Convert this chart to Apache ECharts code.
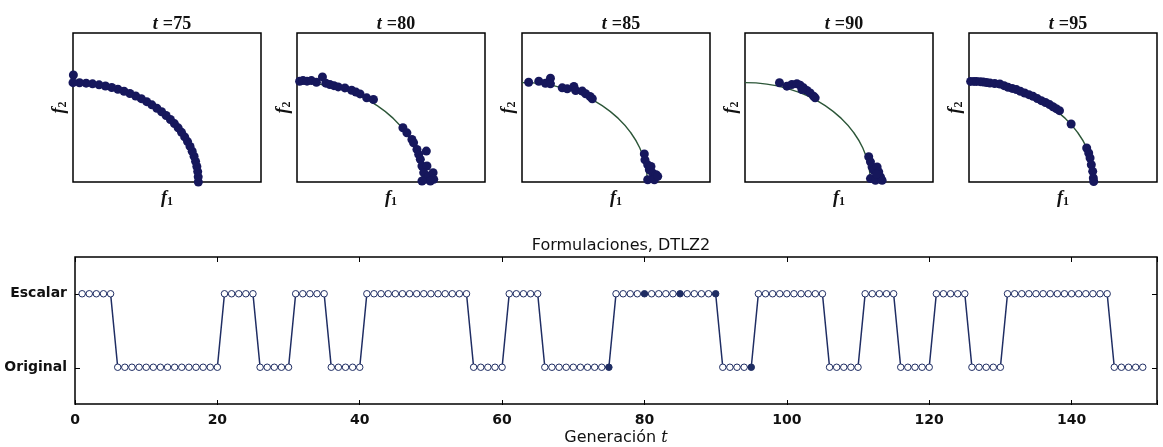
<!DOCTYPE html>
<html>
<head>
<meta charset="utf-8">
<script src="https://cdn.jsdelivr.net/npm/echarts@6/dist/echarts.min.js"></script>
<style>
html,body{margin:0;padding:0;background:#fff;}
#chart{width:1163px;height:447px;}
</style>
</head>
<body>
<div id="chart"></div>
<script>
// formulacion usada en cada generacion t=1..150 (0 = Original, 1 = Escalar)
var formulation = [
    1,1,1,1,1,0,0,0,0,0,
    0,0,0,0,0,0,0,0,0,0,
    1,1,1,1,1,0,0,0,0,0,
    1,1,1,1,1,0,0,0,0,0,
    1,1,1,1,1,1,1,1,1,1,
    1,1,1,1,1,0,0,0,0,0,
    1,1,1,1,1,0,0,0,0,0,
    0,0,0,0,0,1,1,1,1,1,
    1,1,1,1,1,1,1,1,1,1,
    0,0,0,0,0,1,1,1,1,1,
    1,1,1,1,1,0,0,0,0,0,
    1,1,1,1,1,0,0,0,0,0,
    1,1,1,1,1,0,0,0,0,0,
    1,1,1,1,1,1,1,1,1,1,
    1,1,1,1,1,0,0,0,0,0
];
var yCats = ['Original', 'Escalar'];
var xTicks = [0, 20, 40, 60, 80, 100, 120, 140];
var snapTimes = [75, 80, 85, 90, 95];

// frente de Pareto DTLZ2 (f1, f2)
var front = [
    [0.000,1.000],[0.174,0.985],[0.342,0.940],[0.500,0.866],[0.643,0.766],
    [0.766,0.643],[0.866,0.500],[0.940,0.342],[0.985,0.174],[1.000,0.000]
];

var pop75 = [
    [0.003,1.077],
    [1.000,0.000],[0.999,0.052],[0.995,0.105],[0.988,0.156],[0.978,0.208],[0.966,0.259],
    [0.951,0.309],[0.934,0.358],[0.914,0.407],[0.891,0.454],[0.866,0.500],[0.839,0.545],
    [0.809,0.588],[0.777,0.629],[0.743,0.669],[0.707,0.707],[0.669,0.743],[0.629,0.777],
    [0.588,0.809],[0.545,0.839],[0.500,0.866],[0.454,0.891],[0.407,0.914],[0.358,0.934],
    [0.309,0.951],[0.259,0.966],[0.208,0.978],[0.156,0.988],[0.105,0.995],[0.052,0.999],
    [0.000,1.000]
];
var pop80 = [
    [0.021,1.014],[0.048,1.021],[0.080,1.015],[0.115,1.021],[0.155,1.004],[0.203,1.058],
    [0.230,0.995],[0.262,0.981],[0.295,0.970],[0.329,0.957],[0.382,0.947],[0.436,0.924],
    [0.470,0.905],[0.503,0.887],[0.556,0.847],[0.610,0.830],
    [0.845,0.546],[0.877,0.495],[0.917,0.428],[0.930,0.395],[0.957,0.328],[0.971,0.278],
    [0.984,0.228],[1.032,0.311],[0.997,0.161],[1.037,0.161],[1.011,0.094],[1.024,0.027],
    [1.051,0.060],[1.086,0.094],[1.091,0.027],[1.064,0.010],[0.997,0.010]
];
var pop85 = [
    [0.053,1.004],[0.134,1.014],[0.187,0.994],[0.227,1.044],[0.227,0.988],[0.321,0.948],
    [0.361,0.938],[0.414,0.961],[0.428,0.921],[0.481,0.915],[0.508,0.888],[0.543,0.861],
    [0.561,0.838],
    [0.976,0.283],[0.981,0.223],[1.003,0.173],[1.016,0.123],[1.029,0.156],[1.043,0.090],
    [1.070,0.073],[1.003,0.023],[1.056,0.023],[1.083,0.057]
];
var pop90 = [
    [0.275,0.999],[0.334,0.965],[0.374,0.982],[0.414,0.989],[0.440,0.975],[0.467,0.948],
    [0.494,0.921],[0.520,0.897],[0.547,0.864],[0.560,0.847],[0.454,0.931],
    [0.987,0.254],[1.001,0.203],[1.014,0.152],[1.027,0.119],[1.054,0.152],[1.067,0.102],
    [1.081,0.051],[1.001,0.034],[1.041,0.017],[1.094,0.017],[1.050,0.080]
];
var pop95 = [
    [0.013,1.013],[0.040,1.013],[0.061,1.013],[0.090,1.010],[0.114,1.007],[0.140,1.002],
    [0.167,0.997],[0.205,0.992],[0.246,0.987],[0.280,0.970],[0.312,0.953],[0.345,0.942],
    [0.378,0.930],[0.410,0.913],[0.444,0.896],[0.478,0.879],[0.511,0.862],[0.545,0.840],
    [0.577,0.819],[0.610,0.800],[0.643,0.779],[0.670,0.758],[0.696,0.738],[0.722,0.718],
    [0.815,0.584],
    [0.939,0.342],[0.955,0.292],[0.966,0.242],[0.976,0.174],[0.987,0.107],[0.992,0.040],
    [0.995,0.005]
];
var pops = [pop75, pop80, pop85, pop90, pop95];

var navy = '#16175c';
var lineNavy = '#1f2d63';
var green = '#2c5638';

var panelLeft = [73, 297, 522, 745, 969];
var panelW = 188, panelH = 149, panelTop = 33;

var serifRich = {
    f: {fontFamily: 'Liberation Serif', fontStyle: 'italic', fontWeight: 'bold', fontSize: 18, color: '#111'},
    s: {fontFamily: 'Liberation Serif', fontWeight: 'bold', fontSize: 12, color: '#111', padding: [8, 0, 0, 0]}
};

var grids = [], xAxes = [], yAxes = [], series = [], titles = [];
for (var i = 0; i < 5; i++) {
    grids.push({left: panelLeft[i], top: panelTop, width: panelW, height: panelH,
        show: true, borderColor: '#000', borderWidth: 1.5});
    xAxes.push({gridIndex: i, type: 'value', min: 0, max: 1.5,
        axisLine: {show: false, onZero: false}, axisTick: {show: false}, axisLabel: {show: false}, splitLine: {show: false},
        name: '{f|f}{s|1}', nameLocation: 'middle', nameGap: 6,
        nameTextStyle: {rich: serifRich}});
    yAxes.push({gridIndex: i, type: 'value', min: 0, max: 1.5,
        axisLine: {show: false, onZero: false}, axisTick: {show: false}, axisLabel: {show: false}, splitLine: {show: false},
        name: '{f|f}{s|2}', nameLocation: 'middle', nameGap: 4,
        nameTextStyle: {rich: serifRich}});
    if (i > 0) {
        series.push({type: 'line', xAxisIndex: i, yAxisIndex: i, data: front, smooth: true,
            showSymbol: false, lineStyle: {color: green, width: 1.4}, z: 2, silent: true});
    }
    series.push({type: 'scatter', xAxisIndex: i, yAxisIndex: i, data: pops[i],
        symbolSize: 9, itemStyle: {color: navy, opacity: 1}, z: 3, silent: true});
    titles.push({
        text: '{t|t} {n|=' + snapTimes[i] + '}',
        left: panelLeft[i] + panelW / 2, top: 10, textAlign: 'center',
        textStyle: {rich: {
            t: {fontFamily: 'Liberation Serif', fontStyle: 'italic', fontWeight: 'bold', fontSize: 18, color: '#111'},
            n: {fontFamily: 'Liberation Serif', fontWeight: 'bold', fontSize: 18, color: '#111'}
        }}
    });
}

// grafico inferior
// grid 5: datos y etiquetas; grid 6: marcas arriba/derecha; grid 7: marcas abajo/izquierda
var bL = 75, bR = 6, bT = 257, bH = 148;
function bottomBox(extra) {
    return Object.assign({left: bL, right: bR, top: bT, height: bH}, extra);
}
grids.push(bottomBox({show: true, borderColor: '#000', borderWidth: 1.5}));
grids.push(bottomBox({show: false}));
grids.push(bottomBox({show: false}));
titles.push({text: 'Formulaciones, DTLZ2', left: 616, top: 233, textAlign: 'center',
    textStyle: {fontFamily: 'DejaVu Sans', fontWeight: 'normal', fontSize: 16, color: '#111'}});

function ticks(extra) {
    return Object.assign({show: true, inside: true, length: 5, lineStyle: {color: '#000', width: 1}}, extra);
}
var labelFont = {fontFamily: 'DejaVu Sans', fontWeight: 'bold', fontSize: 14, color: '#111'};
var noLine = {show: false, onZero: false};

xAxes.push({gridIndex: 5, type: 'value', min: 0, max: 152, interval: 20, position: 'bottom',
    axisLine: noLine, splitLine: {show: false}, axisTick: {show: false},
    axisLabel: Object.assign({margin: 9, showMaxLabel: false}, labelFont),
    name: '{a|Generación }{b|t}', nameLocation: 'middle', nameGap: 26,
    nameTextStyle: {rich: {
        a: {fontFamily: 'DejaVu Sans', fontSize: 16, color: '#111'},
        b: {fontFamily: 'DejaVu Serif', fontStyle: 'italic', fontSize: 16, color: '#111'}
    }}});
yAxes.push({gridIndex: 5, type: 'value', min: -0.5, max: 1.5, position: 'left',
    axisLine: noLine, splitLine: {show: false}, axisTick: {show: false},
    axisLabel: Object.assign({customValues: [0, 1], margin: 8,
        formatter: function (v) { return yCats[v]; }}, labelFont)});

xAxes.push({gridIndex: 6, type: 'value', min: 0, max: 152, interval: 20, position: 'top',
    axisLine: noLine, splitLine: {show: false}, axisLabel: {show: false},
    axisTick: ticks()});
yAxes.push({gridIndex: 6, type: 'value', min: -0.5, max: 1.5, position: 'right',
    axisLine: noLine, splitLine: {show: false}, axisLabel: {show: false},
    axisTick: ticks({customValues: [0, 1]})});

xAxes.push({gridIndex: 7, type: 'value', min: 0, max: 152, interval: 20, position: 'bottom',
    axisLine: noLine, splitLine: {show: false}, axisLabel: {show: false},
    axisTick: ticks()});
yAxes.push({gridIndex: 7, type: 'value', min: -0.5, max: 1.5, position: 'left',
    axisLine: noLine, splitLine: {show: false}, axisLabel: {show: false},
    axisTick: ticks({customValues: [0, 1]})});

var lineData = [];
for (var k = 0; k < formulation.length; k++) {
    var gen = k + 1;
    var item = {value: [gen, formulation[k]]};
    if (snapTimes.indexOf(gen) >= 0) {
        item.itemStyle = {color: lineNavy};
    }
    lineData.push(item);
}
series.push({type: 'line', xAxisIndex: 5, yAxisIndex: 5, data: lineData,
    symbol: 'circle', symbolSize: 6.5, showAllSymbol: true,
    lineStyle: {color: lineNavy, width: 1.5},
    itemStyle: {color: '#fff', borderColor: lineNavy, borderWidth: 1},
    animation: false, silent: true});
series.push({type: 'scatter', xAxisIndex: 6, yAxisIndex: 6, data: [], silent: true});
series.push({type: 'scatter', xAxisIndex: 7, yAxisIndex: 7, data: [], silent: true});

var chart = echarts.init(document.getElementById('chart'));
chart.setOption({
    animation: false,
    title: titles,
    grid: grids,
    xAxis: xAxes,
    yAxis: yAxes,
    series: series
});
</script>
</body>
</html>
